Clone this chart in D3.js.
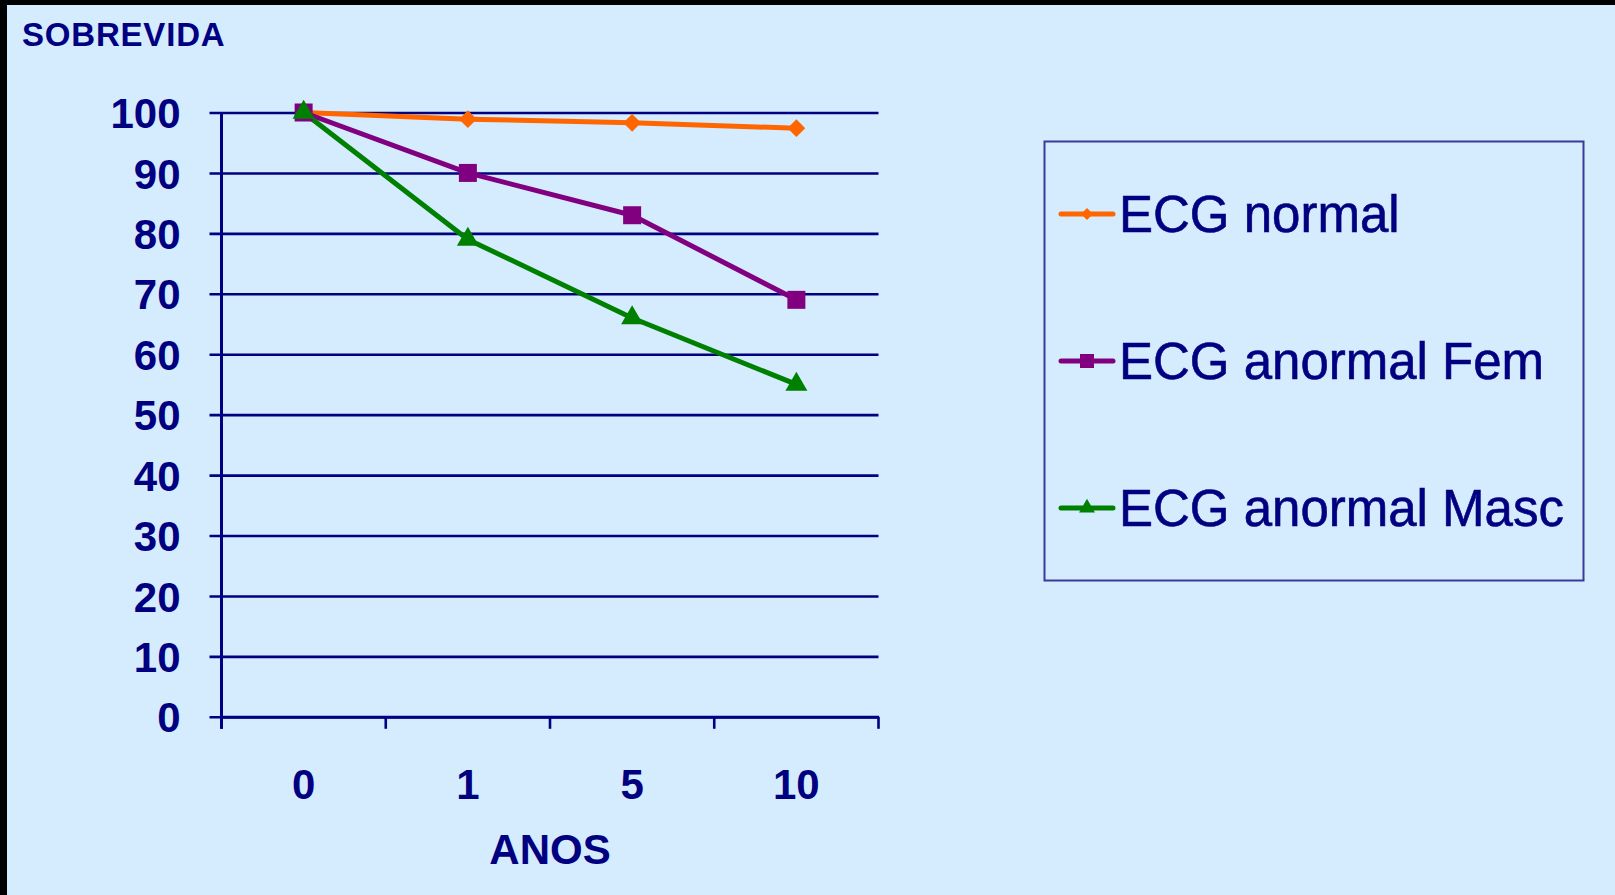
<!DOCTYPE html>
<html><head><meta charset="utf-8">
<script src="https://cdn.jsdelivr.net/npm/d3@7/dist/d3.min.js"></script>
<style>
html,body{margin:0;padding:0;background:#000;}
svg{display:block;}
text{font-family:"Liberation Sans",Arial,sans-serif;fill:#000080;}
</style></head>
<body>
<svg id="c" width="1615" height="895"></svg>
<script>
const categories = ["0","1","5","10"];
const seriesNames = ["ECG normal","ECG anormal Fem","ECG anormal Masc"];
const ecgNormal = [100, 98.9, 98.3, 97.4];
const ecgAnormalFem = [100, 90, 83, 69];
const ecgAnormalMasc = [100, 79, 66, 55];
const yTicks = [0,10,20,30,40,50,60,70,80,90,100];
const colors = ["#FF6600","#800080","#008000"];
const symbols = [d3.symbolDiamond2, d3.symbolSquare, d3.symbolTriangle];

const series = [ecgNormal, ecgAnormalFem, ecgAnormalMasc];
const svg = d3.select("#c");
const navy = "#000080";

svg.append("rect").attr("x",7).attr("y",5).attr("width",1608).attr("height",890).attr("fill","#D5EBFE");

const x = d3.scaleBand().domain(categories).range([221.5, 878.5]);
const y = d3.scaleLinear().domain([0,100]).range([716.8, 112.5]);

// Gridlines (y axis with long ticks)
const yAxis = d3.axisLeft(y).tickValues(yTicks).tickSizeInner(-(878.5-221.5)).tickSizeOuter(0).tickPadding(0).tickFormat(d3.format("d"));
const gy = svg.append("g").attr("transform","translate(221.5,0)").call(yAxis);
gy.select(".domain").remove();
gy.selectAll(".tick line").attr("stroke",navy).attr("stroke-width",2.6).attr("x1",-12);
gy.selectAll(".tick text").attr("x",-41).attr("dy","0.36em").style("font-size","42px").style("font-weight","bold").attr("fill",navy);

// Vertical axis line
svg.append("line").attr("x1",221.5).attr("x2",221.5).attr("y1",y(100)).attr("y2",y(0)+12).attr("stroke",navy).attr("stroke-width",3);

// X axis
const xAxis = d3.axisBottom(x).tickSize(0).tickPadding(0);
const gx = svg.append("g").attr("transform",`translate(0,${y(0)})`).call(xAxis);
gx.select(".domain").attr("stroke",navy).attr("stroke-width",3);
gx.selectAll(".tick text").attr("y",82).attr("dy","0").style("font-size","42px").style("font-weight","bold").attr("fill",navy);
// boundary ticks
const bounds = categories.map(c=>x(c)).concat([x.range()[1]]);
svg.append("g").selectAll("line").data(bounds).join("line")
  .attr("x1",d=>d).attr("x2",d=>d).attr("y1",y(0)).attr("y2",y(0)+12)
  .attr("stroke",navy).attr("stroke-width",2.6);

// Axis titles
svg.append("text").attr("x",22).attr("y",46).style("font-size","33px").style("font-weight","bold").style("letter-spacing","0.8px").text("SOBREVIDA");
svg.append("text").attr("x",(x.range()[0]+x.range()[1])/2).attr("y",864).attr("text-anchor","middle").style("font-size","42px").style("font-weight","bold").text("ANOS");

// Lines
const line = d3.line().x((d,i)=>x(categories[i])+x.bandwidth()/2).y(d=>y(d));
const sizes = [200, 324, 210];
series.forEach((s,k)=>{
  svg.append("path").datum(s).attr("d",line).attr("fill","none").attr("stroke",colors[k]).attr("stroke-width",5).attr("stroke-linejoin","round");
});
series.forEach((s,k)=>{
  svg.append("g").selectAll("path").data(s).join("path")
    .attr("transform",(d,i)=>`translate(${x(categories[i])+x.bandwidth()/2},${y(d)})`)
    .attr("d",d3.symbol().type(symbols[k]).size(sizes[k]))
    .attr("fill",colors[k]);
});

// Legend
const lg = svg.append("g");
lg.append("rect").attr("x",1044.5).attr("y",141.5).attr("width",539).attr("height",439).attr("fill","none").attr("stroke","#3A3A9A").attr("stroke-width",2);
const rowY = [214, 361, 508];
const lsizes = [90, 196, 110];
seriesNames.forEach((n,k)=>{
  lg.append("line").attr("x1",1061).attr("x2",1113).attr("y1",rowY[k]).attr("y2",rowY[k]).attr("stroke",colors[k]).attr("stroke-width",5).attr("stroke-linecap","round");
  lg.append("path").attr("transform",`translate(1087,${rowY[k]})`).attr("d",d3.symbol().type(symbols[k]).size(lsizes[k])).attr("fill",colors[k]);
  lg.append("text").attr("x",1119).attr("y",rowY[k]).attr("dy","0.36em").style("font-size","51px").attr("stroke",navy).attr("stroke-width",0.6).text(n);
});
</script>
</body></html>
